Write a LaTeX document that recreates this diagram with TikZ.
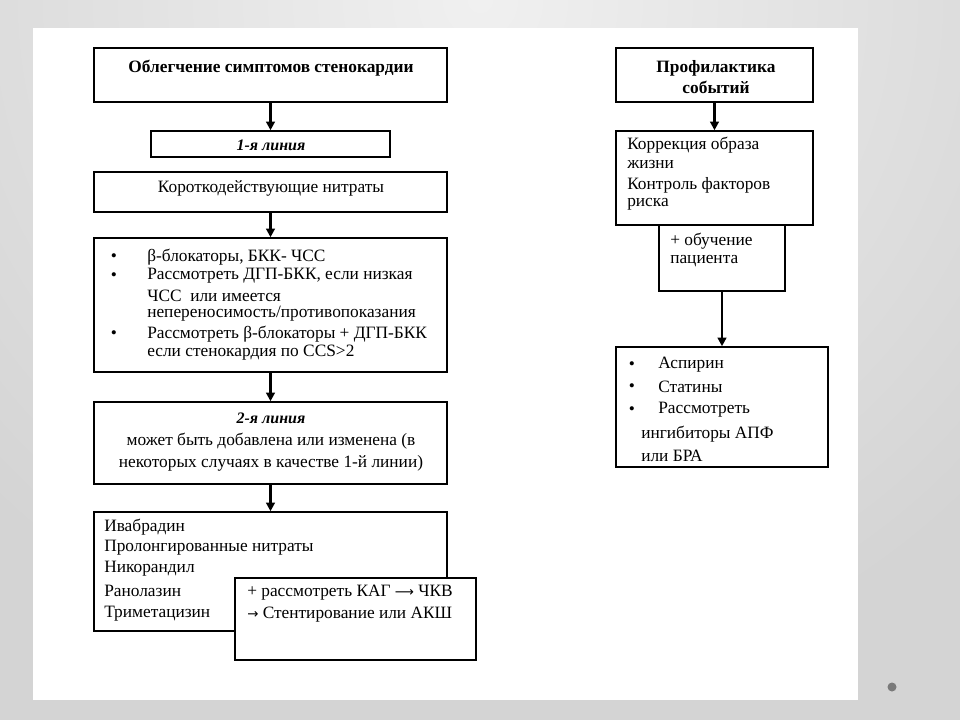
\documentclass[tikz,border=0pt]{standalone}
\usepackage{fontspec}
\setmainfont{Liberation Serif}
\newfontfamily\arrfont{DejaVu Sans}
\usetikzlibrary{fit,arrows.meta}
\definecolor{bgdark}{HTML}{D4D4D4}
\definecolor{bglight}{HTML}{F0F0F0}
\definecolor{dotgray}{HTML}{7A7A7A}
\begin{document}
\begin{tikzpicture}[x=0.75pt,y=-0.75pt,
  box/.style={draw=black, line width=1.1pt, inner sep=0pt, fill=white},
  thickbox/.style={box, line width=1.6pt},
  arr/.style={draw=black, line width=1.8pt, -{Triangle[length=6.5pt,width=6.5pt]}},
  txt/.style={inner sep=0pt, font=\fontsize{13}{15}\selectfont, anchor=west},
  ctxt/.style={inner sep=0pt, font=\fontsize{13}{15}\selectfont, anchor=center},
  bul/.style={inner sep=0pt, font=\fontsize{13}{15}\selectfont, anchor=center}]
\useasboundingbox (0,0) rectangle (960,720);
% background
\fill[bgdark] (0,0) rectangle (960,720);
\begin{scope}
\clip (0,0) rectangle (960,720);
\shade[inner color=bglight, outer color=bgdark] (480,0) circle[radius=700];
\end{scope}
\fill[white] (33,28) rectangle (858,700);
\fill[dotgray] (892,687) circle[radius=4.5];

% left column boxes
\node[box, fit={(94,48)(447,102)}] (b1) {};
\node[box, fit={(151,131)(390,157)}] (l1) {};
\node[box, fit={(94,172)(447,212)}] (sn) {};
\node[box, fit={(94,238)(447,372)}] (bb) {};
\node[box, fit={(94,402)(447,484)}] (l2) {};
\node[box, fit={(94,512)(447,631)}] (iv) {};
\node[thickbox, fit={(235,578)(476,660)}] (kag) {};

% right column boxes
\node[box, fit={(616,48)(813,102)}] (pr) {};
\node[box, fit={(616,131)(813,225)}] (ko) {};
\node[box, fit={(659,225)(785,291)}] (ob) {};
\node[box, fit={(616,347)(828,467)}] (as) {};

% arrows
\draw[arr] (b1.south) -- (l1.north);
\draw[arr] (sn.south) -- (bb.north);
\draw[arr] (bb.south) -- (l2.north);
\draw[arr] (l2.south) -- (iv.north);
\draw[arr] (pr.south) -- (ko.north);
\draw[arr] (ob.south) -- (as.north);

% texts left
\node[ctxt, font=\fontsize{13}{15}\selectfont\bfseries] (t1) at (271,68) {Облегчение симптомов стенокардии};
\node[ctxt, font=\fontsize{12}{14}\selectfont\bfseries\itshape] (t2) at (271,145) {1-я линия};
\node[ctxt] (t3) at (271,188) {Короткодействующие нитраты};

\node[bul] (d1) at (114,258) {\textbullet};
\node[bul] (d2) at (114,277) {\textbullet};
\node[bul] (d3) at (114,335) {\textbullet};
\node[txt] (b1t) at (147,257) {β-блокаторы, БКК- ЧСС};
\node[txt] (b2t) at (147,276) {Рассмотреть ДГП-БКК, если низкая};
\node[txt] (b3t) at (147,296) {ЧСС\ \ или имеется};
\node[txt] (b4t) at (147,314) {непереносимость/противопоказания};
\node[txt] (b5t) at (147,334) {Рассмотреть β-блокаторы + ДГП-БКК};
\node[txt] (b6t) at (147,353) {если стенокардия по CCS>2};

\node[ctxt, font=\fontsize{12}{14}\selectfont\bfseries\itshape] (s1) at (271,418) {2-я линия};
\node[ctxt] (s2) at (271,441) {может быть добавлена или изменена (в};
\node[ctxt] (s3) at (271,463) {некоторых случаях в качестве 1-й линии)};

\node[txt] (i1) at (104,527) {Ивабрадин};
\node[txt] (i2) at (104,548) {Пролонгированные нитраты};
\node[txt] (i3) at (104,569) {Никорандил};
\node[txt] (i4) at (104,591) {Ранолазин};
\node[txt] (i5) at (104,614) {Триметацизин};

\node[txt] (k1) at (247,593) {+ рассмотреть КАГ {\arrfont\fontsize{10}{12}\selectfont ⟶} ЧКВ};
\node[txt] (k2) at (247,615) {{\arrfont\fontsize{10}{12}\selectfont →} Стентирование или АКШ};

% texts right
\node[ctxt, font=\fontsize{13}{15}\selectfont\bfseries] (p1) at (716,68) {Профилактика};
\node[ctxt, font=\fontsize{13}{15}\selectfont\bfseries] (p2) at (716,87) {событий};

\node[txt] (c1) at (627,145) {Коррекция образа};
\node[txt] (c2) at (627,165) {жизни};
\node[txt] (c3) at (627,185) {Контроль факторов};
\node[txt] (c4) at (627,204) {риска};

\node[txt] (o1) at (670,241) {+ обучение};
\node[txt] (o2) at (670,261) {пациента};

\node[bul] (e1) at (632,366) {\textbullet};
\node[bul] (e2) at (632,388) {\textbullet};
\node[bul] (e3) at (632,411) {\textbullet};
\node[txt] (a1) at (658,365) {Аспирин};
\node[txt] (a2) at (658,387) {Статины};
\node[txt] (a3) at (658,410) {Рассмотреть};
\node[txt] (a4) at (641,434) {ингибиторы АПФ};
\node[txt] (a5) at (641,456) {или БРА};
\end{tikzpicture}
\end{document}
